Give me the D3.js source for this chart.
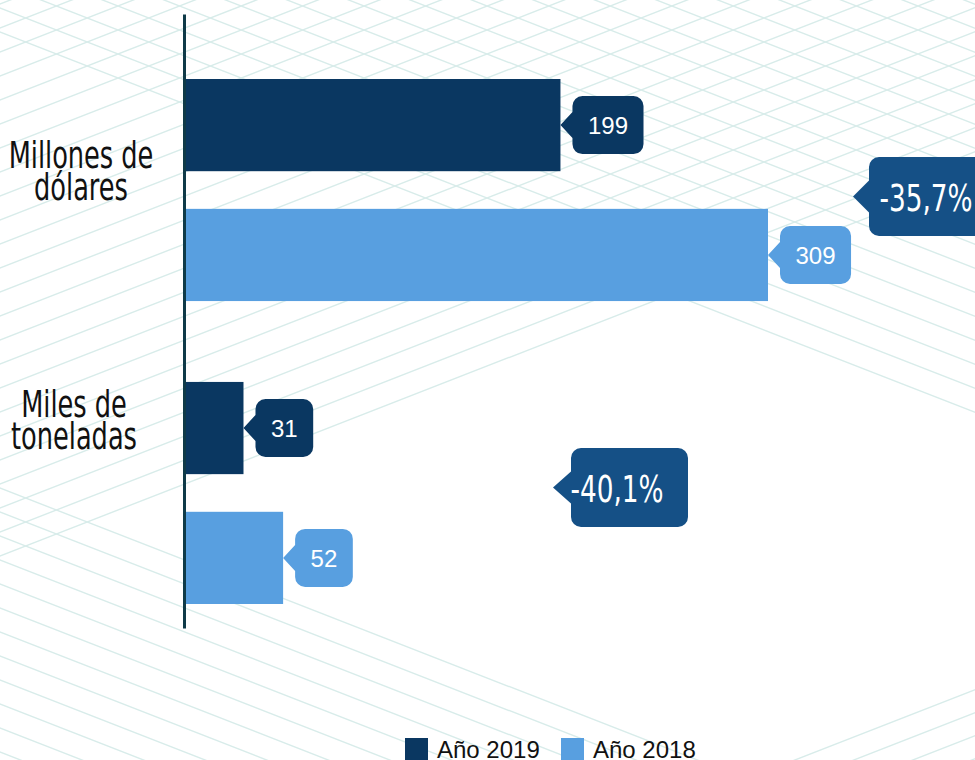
<!DOCTYPE html>
<html>
<head>
<meta charset="utf-8">
<script src="https://cdn.jsdelivr.net/npm/d3@7"></script>
<style>
  body { margin: 0; background: #fff; }
  svg { display: block; }
</style>
</head>
<body>
<div id="chart"></div>
<script>
// data
const categories = ["Millones de dólares", "Miles de toneladas"];
const categoryLines = [["Millones de", "dólares"], ["Miles de", "toneladas"]];
const series = ["Año 2019", "Año 2018"];
const values2019 = [199, 31];
const values2018 = [309, 52];
const changes = ["-35,7%", "-40,1%"];

const w = 975;
const h = 760;
const colors = { "Año 2019": "#0a3761", "Año 2018": "#589fe0" };
const changeColor = "#155086";
const gridColor = "#d8ecea";
const condensed = "'DejaVu Sans Condensed', 'DejaVu Sans', sans-serif";
const squeeze = 0.77; // DejaVu condensed is still wider than the original face

const rows = categories.map((c, i) => ({
  category: c,
  lines: categoryLines[i],
  change: changes[i],
  values: [
    { serie: series[0], value: values2019[i] },
    { serie: series[1], value: values2018[i] },
  ],
}));

const svg = d3
  .select("#chart")
  .append("svg")
  .attr("width", w)
  .attr("height", h);

// background hatch
const slope = 0.39;
const bg = svg.append("g").attr("stroke", gridColor).attr("stroke-width", 1.4);
const hatch = (offsets, sign) => {
  bg.selectAll(null)
    .data(offsets)
    .enter()
    .append("line")
    .attr("x1", -20)
    .attr("x2", w + 20)
    .attr("y1", (c) => c + sign * slope * -20)
    .attr("y2", (c) => c + sign * slope * (w + 20));
};
hatch(d3.range(-20, 560, 24), -1); // rising lines, upper area
hatch(d3.range(1070, 1500, 23), -1); // rising lines, bottom right
hatch(d3.range(-400, 45, 24), 1); // falling lines, top
hatch(d3.range(488, 800, 24), 1); // falling lines, bottom left

// scales
const x = d3.scaleLinear().domain([0, 309]).range([185, 768]);

const y0 = d3
  .scaleBand()
  .domain(categories)
  .range([79, 604])
  .paddingInner(0.267);

const y1 = d3
  .scaleBand()
  .domain(series)
  .range([0, y0.bandwidth()])
  .paddingInner(0.29);

// bars
const groups = svg
  .selectAll(".group")
  .data(rows)
  .enter()
  .append("g")
  .attr("class", "group")
  .attr("transform", (d) => `translate(0, ${y0(d.category)})`);

groups
  .selectAll("rect")
  .data((d) => d.values)
  .enter()
  .append("rect")
  .attr("x", x(0))
  .attr("y", (d) => y1(d.serie))
  .attr("width", (d) => x(d.value) - x(0))
  .attr("height", y1.bandwidth())
  .attr("fill", (d) => colors[d.serie]);

// callout shape: rounded box with a pointer on its left
function callout(bx, by, bw, bh, r, tipX, half) {
  const cy = by + bh / 2;
  const p = d3.path();
  p.moveTo(bx + r, by);
  p.lineTo(bx + bw - r, by);
  p.arcTo(bx + bw, by, bx + bw, by + r, r);
  p.lineTo(bx + bw, by + bh - r);
  p.arcTo(bx + bw, by + bh, bx + bw - r, by + bh, r);
  p.lineTo(bx + r, by + bh);
  p.arcTo(bx, by + bh, bx, by + bh - r, r);
  p.lineTo(bx, cy + half);
  p.lineTo(tipX, cy);
  p.lineTo(bx, cy - half);
  p.lineTo(bx, by + r);
  p.arcTo(bx, by, bx + r, by, r);
  p.closePath();
  return p.toString();
}

// value labels
groups.each(function (row) {
  const g = d3.select(this);
  row.values.forEach((d) => {
    const tipX = x(d.value);
    const cy = y1(d.serie) + y1.bandwidth() / 2;
    const lab = g.append("g");
    const t = lab
      .append("text")
      .attr("y", cy)
      .attr("dy", "0.36em")
      .attr("fill", "#fff")
      .style("font-family", "Arial, 'Liberation Sans', sans-serif")
      .style("font-size", "24px")
      .text(d.value);
    const tw = t.node().getComputedTextLength();
    const bw = tw + 31;
    const bx = tipX + 12;
    t.attr("x", bx + bw / 2).attr("text-anchor", "middle");
    lab
      .insert("path", "text")
      .attr("d", callout(bx, cy - 29, bw, 58, 10, tipX, 13))
      .attr("fill", colors[d.serie]);
  });
});

// axis line
const axisScale = d3.scaleLinear().range([14, 628]);
svg
  .append("g")
  .attr("transform", `translate(${x(0) - 1}, 0)`)
  .call(d3.axisLeft(axisScale).ticks(0).tickSizeOuter(0))
  .select(".domain")
  .attr("stroke", "#0f3a48")
  .attr("stroke-width", 3);

// category labels
const labelShift = [89, 35];
const labelX = [81, 74];
groups.each(function (row, i) {
  const t = d3
    .select(this)
    .append("text")
    .attr("transform", `translate(${labelX[i]}, ${labelShift[i]}) scale(${squeeze}, 1)`)
    .attr("text-anchor", "middle")
    .style("font-family", condensed)
    .style("font-size", "37px")
    .attr("fill", "#111");
  t.selectAll("tspan")
    .data(row.lines)
    .enter()
    .append("tspan")
    .attr("x", 0)
    .attr("dy", (d, j) => (j === 0 ? 0 : 32))
    .text((d) => d);
});

// change annotations
const changeBox = [
  { x: 869, y: 157, tip: 853 },
  { x: 571, y: 448, tip: 553 },
];
const changeDx = [57, 46];
rows.forEach((row, i) => {
  const b = changeBox[i];
  svg
    .append("path")
    .attr("d", callout(b.x, b.y, 117, 79, 10, b.tip, 16))
    .attr("fill", changeColor);
  svg
    .append("text")
    .attr("transform", `translate(${b.x + changeDx[i]}, ${b.y + 40}) scale(${squeeze}, 1)`)
    .attr("text-anchor", "middle")
    .attr("dy", "0.36em")
    .attr("fill", "#fff")
    .style("font-family", condensed)
    .style("font-size", "38px")
    .text(row.change);
});

// legend
const legend = svg
  .selectAll(".legend")
  .data(series)
  .enter()
  .append("g")
  .attr("class", "legend")
  .attr("transform", (d, i) => `translate(${405 + i * 156}, 738)`);

legend
  .append("rect")
  .attr("width", 23)
  .attr("height", 23)
  .attr("fill", (d) => colors[d]);

legend
  .append("text")
  .attr("x", 32)
  .attr("y", 20)
  .style("font-family", "Arial, 'Liberation Sans', sans-serif")
  .style("font-size", "24px")
  .attr("fill", "#111")
  .text((d) => d);
</script>
</body>
</html>
